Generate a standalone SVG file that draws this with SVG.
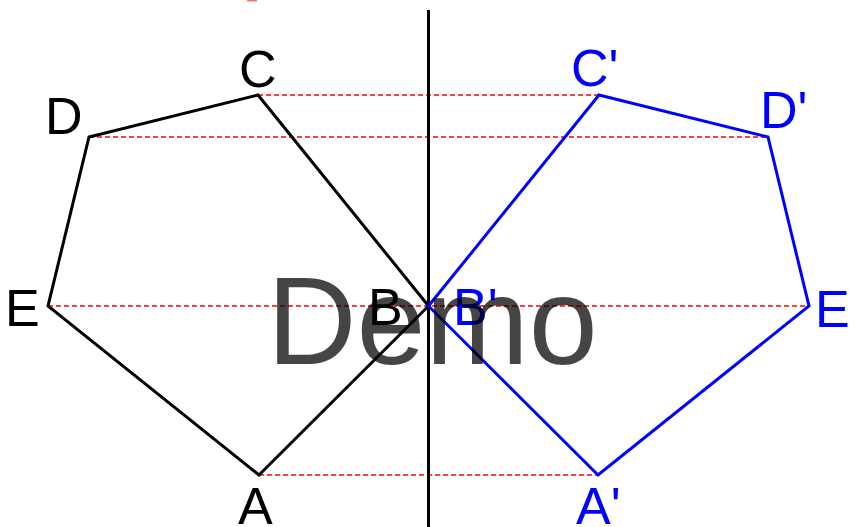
<svg xmlns="http://www.w3.org/2000/svg" width="854" height="527" viewBox="0 0 854 527">
<style>
.lbl{font-family:"Liberation Sans",Arial,sans-serif;font-size:52px}
.blk{fill:#000}
.blu{fill:#0000ff}
.dash{stroke:#ff0000;stroke-width:1.4;stroke-dasharray:5,3;fill:none}
.poly{fill:none;stroke-width:3;stroke-linejoin:miter}
</style>
<rect width="854" height="527" fill="#fff"/>
<rect x="247" y="0" width="10" height="1.5" fill="#ff7070"/>
<g id="connectors">
<line class="dash" x1="258" y1="95" x2="599" y2="95"/>
<line class="dash" x1="89" y1="137" x2="768" y2="137"/>
<line class="dash" x1="48" y1="306" x2="809" y2="306"/>
<line class="dash" x1="259" y1="475" x2="598" y2="475"/>
<line x1="428.5" y1="10" x2="428.5" y2="527" stroke="#000" stroke-width="3"/>
</g>
<g id="pentagon">
<polygon class="poly" stroke="#000" points="259,475 428.5,306 258,95 89,137 48,306"/>
</g>
<g id="pentagon-image">
<polygon class="poly" stroke="#0000ff" points="598,475 428.5,306 599,95 768,137 809,306"/>
</g>
<g id="labels">
<text class="lbl blk" x="238" y="524">A</text>
<text class="lbl blk" x="368" y="325">B</text>
<text class="lbl blk" x="239" y="87">C</text>
<text class="lbl blk" x="45" y="134">D</text>
<text class="lbl blk" x="5" y="326">E</text>
<text class="lbl blu" x="576" y="524">A'</text>
<text class="lbl blu" x="453" y="325">B'</text>
<text class="lbl blu" x="571" y="86">C'</text>
<text class="lbl blu" x="760" y="128">D'</text>
<text class="lbl blu" x="815" y="327">E</text>
</g>
<text x="267" y="364" font-family="'Liberation Sans',Arial,sans-serif" font-size="124" fill="#000" fill-opacity="0.73">Demo</text>
</svg>
